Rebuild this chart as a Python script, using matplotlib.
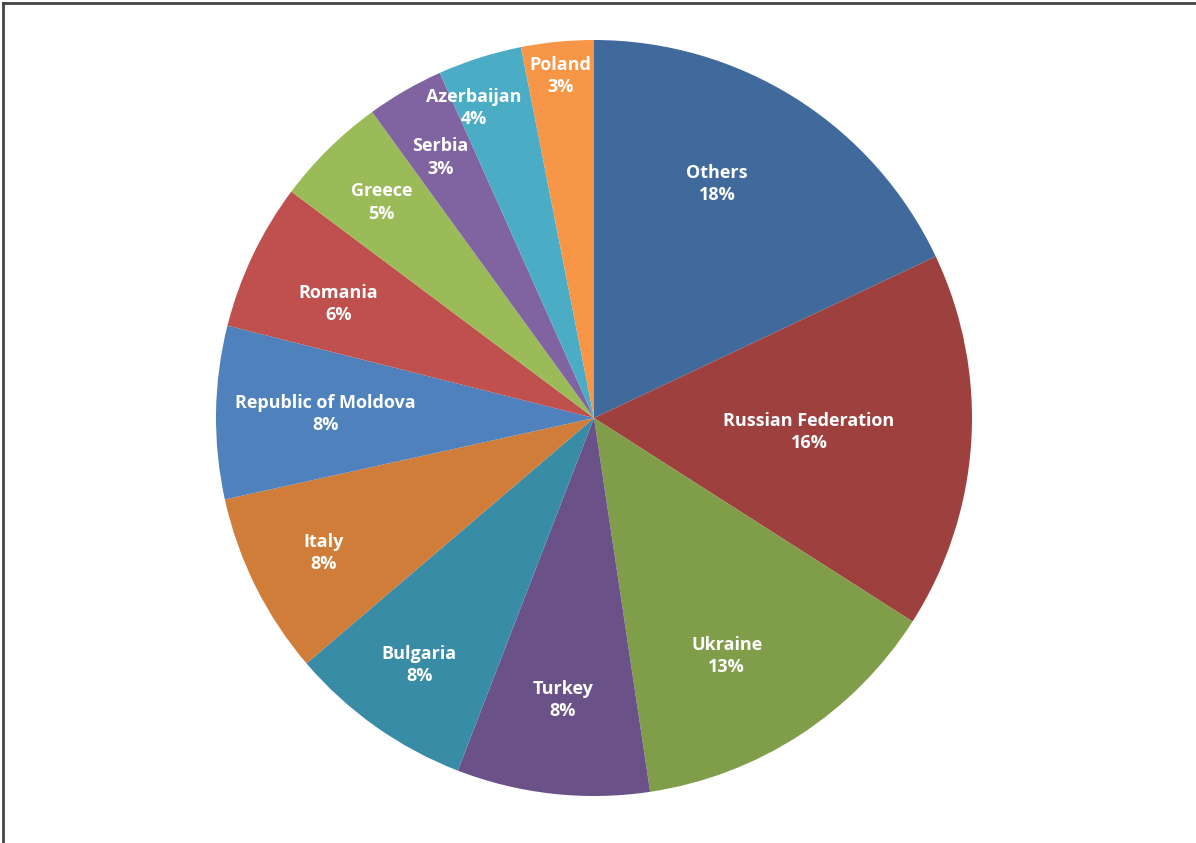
import matplotlib.pyplot as plt
from matplotlib.lines import Line2D
import numpy as np

# Slice data (clockwise from 12 o'clock)
countries = ["Others", "Russian Federation", "Ukraine", "Turkey", "Bulgaria",
             "Italy", "Republic of Moldova", "Romania", "Greece", "Serbia",
             "Azerbaijan", "Poland"]
shares = [18.0, 16.1, 13.6, 8.25, 7.9, 7.8, 7.4, 6.3, 4.8, 3.3, 3.6, 3.1]
pct_labels = ["18%", "16%", "13%", "8%", "8%", "8%", "8%", "6%", "5%", "3%", "4%", "3%"]

colors = ["#406A9C", "#9E413E", "#809D49", "#6A5188", "#388CA5", "#D07D39",
          "#4F81BD", "#C0504D", "#9BBB59", "#8064A2", "#4BACC6", "#F79646"]
# label placement: distance from centre (fraction of radius) and angle nudge (deg)
label_r = [0.70, 0.57, 0.72, 0.75, 0.80, 0.80, 0.71, 0.74, 0.80, 0.80, 0.88, 0.91]
label_da = [4.6, 0, -3.8, 0, 0, 0, 0, 1.5, 0, 0.5, 3.5, 0]

fig = plt.figure(figsize=(11.96, 8.43), dpi=100)
ax = fig.add_axes([0, 0, 1, 1])

wedges, _ = ax.pie(shares, colors=colors, startangle=90, counterclock=False,
                   radius=1.0, center=(0, 0))

for w, name, pct, r, da in zip(wedges, countries, pct_labels, label_r, label_da):
    mid = np.deg2rad((w.theta1 + w.theta2) / 2 + da)
    ax.text(r * np.cos(mid), r * np.sin(mid), f"{name}\n{pct}",
            ha="center", va="center", color="white", fontsize=13,
            fontweight="bold", family="Open Sans", linespacing=1.3)

# axes set so pie centre and radius land where the reference has them
R = 378
cx, cy = 594, 843 - 418
ax.set_xlim(-cx / R, (1196 - cx) / R)
ax.set_ylim(-cy / R, (843 - cy) / R)
ax.axis("off")

# outer frame (top and left edges visible)
fig.add_artist(Line2D([0.0025, 0.0025], [0, 0.9965], color="#444444", lw=2,
                      transform=fig.transFigure))
fig.add_artist(Line2D([0.0025, 1], [0.9965, 0.9965], color="#444444", lw=2,
                      transform=fig.transFigure))

fig.savefig("out.png", dpi=100)
